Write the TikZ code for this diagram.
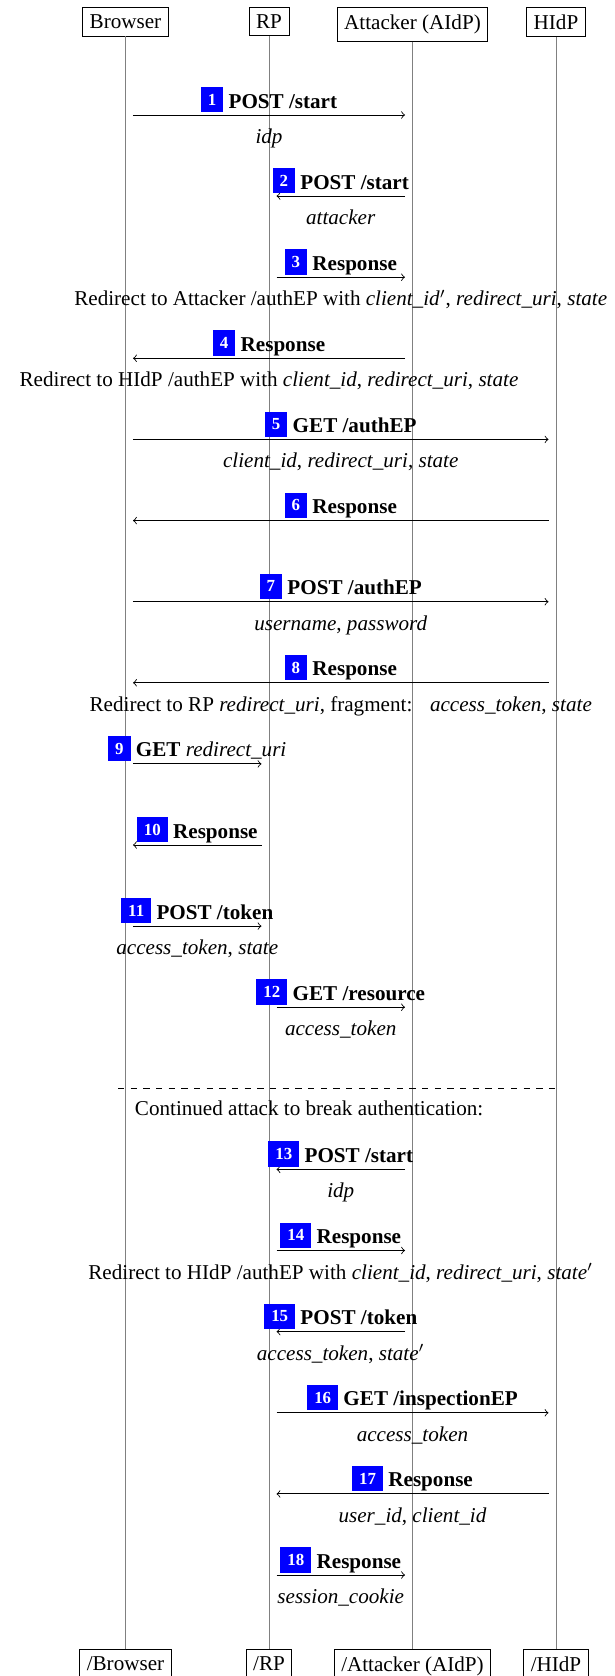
\documentclass[tikz,border=0pt]{standalone}
\usepackage{fontspec}
\setmainfont{Liberation Serif}

% blue step number placed in front of each message title
\newcommand{\stepnum}[1]{\raisebox{1.3pt}{\setlength{\fboxsep}{3.333pt}\colorbox{blue}{\footnotesize\bfseries\color{white}#1}}\hspace{2.5pt}}

% one message: #1 row name, #2 row y, #3 sender, #4 receiver, #5 title, #6 payload
\newcommand{\msgrow}[6]{%
  \coordinate (#1) at (0,#2);
  \draw[msg] (#3 |- #1) -- (#4 |- #1)
    node[msgtitle] (#1t) {#5}
    node[msgsub] (#1s) {#6};
}

\tikzset{
  party/.style={draw, anchor=north, inner sep=3.333pt},
  partyend/.style={draw, anchor=north, inner sep=3.333pt},
  lifeline/.style={draw=gray, line width=0.4pt},
  msg/.style={->, black, line width=0.4pt, shorten >=3.55pt, shorten <=3.55pt},
  msgtitle/.style={midway, anchor=base, inner sep=0pt, yshift=3.3pt},
  msgsub/.style={midway, anchor=base, inner sep=0pt, yshift=-13.5pt},
}

\begin{document}
\begin{tikzpicture}[x=0.4735pt, y=-0.4735pt]
\useasboundingbox (0,0) rectangle (615,1676);

% participants
\node[party] (br) at (125.5,7.5) {Browser};
\node[party] (rp) at (269,7.5) {RP};
\node[party] (at) at (412.5,7.5) {Attacker (AIdP)};
\node[party] (hi) at (556,7.5) {HIdP};

\node[partyend] (brE) at (125.5,1649) {/Browser};
\node[partyend] (rpE) at (269,1649) {/RP};
\node[partyend] (atE) at (412.5,1649) {/Attacker (AIdP)};
\node[partyend] (hiE) at (556,1649) {/HIdP};

% lifelines
\draw[lifeline] (br.south) -- (brE.north);
\draw[lifeline] (rp.south) -- (rpE.north);
\draw[lifeline] (at.south) -- (atE.north);
\draw[lifeline] (hi.south) -- (hiE.north);

% first run of the flow
\msgrow{m1}{115}{br}{at}{\stepnum{1}\textbf{POST /start}}{\textit{idp}}
\msgrow{m2}{196.1}{at}{rp}{\stepnum{2}\textbf{POST /start}}{\textit{attacker}}
\msgrow{m3}{277.2}{rp}{at}{\stepnum{3}\textbf{Response}}{Redirect to Attacker /authEP with \textit{client\_id}$'$, \textit{redirect\_uri}, \textit{state}}
\msgrow{m4}{358.3}{at}{br}{\stepnum{4}\textbf{Response}}{Redirect to HIdP /authEP with \textit{client\_id}, \textit{redirect\_uri}, \textit{state}}
\msgrow{m5}{439.4}{br}{hi}{\stepnum{5}\textbf{GET /authEP}}{\textit{client\_id}, \textit{redirect\_uri}, \textit{state}}
\msgrow{m6}{520.6}{hi}{br}{\stepnum{6}\textbf{Response}}{}
\msgrow{m7}{601.7}{br}{hi}{\stepnum{7}\textbf{POST /authEP}}{\textit{username}, \textit{password}}
\msgrow{m8}{682.8}{hi}{br}{\stepnum{8}\textbf{Response}}{Redirect to RP \textit{redirect\_uri}, fragment:\hspace{0.5em} \textit{access\_token}, \textit{state}}
\msgrow{m9}{763.9}{br}{rp}{\stepnum{9}\textbf{GET} \textit{redirect\_uri}}{}
\msgrow{m10}{845}{rp}{br}{\stepnum{10}\textbf{Response}}{}
\msgrow{m11}{926.1}{br}{rp}{\stepnum{11}\textbf{POST /token}}{\textit{access\_token}, \textit{state}}
\msgrow{m12}{1007.2}{rp}{at}{\stepnum{12}\textbf{GET /resource}}{\textit{access\_token}}

% separator
\coordinate (sep) at (0,1088.3);
\draw[dashed, line width=0.4pt] ([xshift=-3.55pt]br |- sep) -- (hi |- sep);
\node[anchor=base west, inner sep=0pt] (cont) at (134.5,1115) {Continued attack to break authentication:};

% continued attack
\msgrow{m13}{1169.4}{at}{rp}{\stepnum{13}\textbf{POST /start}}{\textit{idp}}
\msgrow{m14}{1250.5}{rp}{at}{\stepnum{14}\textbf{Response}}{Redirect to HIdP /authEP with \textit{client\_id}, \textit{redirect\_uri}, \textit{state}$'$}
\msgrow{m15}{1331.6}{at}{rp}{\stepnum{15}\textbf{POST /token}}{\textit{access\_token}, \textit{state}$'$}
\msgrow{m16}{1412.8}{rp}{hi}{\stepnum{16}\textbf{GET /inspectionEP}}{\textit{access\_token}}
\msgrow{m17}{1493.9}{hi}{rp}{\stepnum{17}\textbf{Response}}{\textit{user\_id}, \textit{client\_id}}
\msgrow{m18}{1575}{rp}{at}{\stepnum{18}\textbf{Response}}{\textit{session\_cookie}}
\end{tikzpicture}
\end{document}
